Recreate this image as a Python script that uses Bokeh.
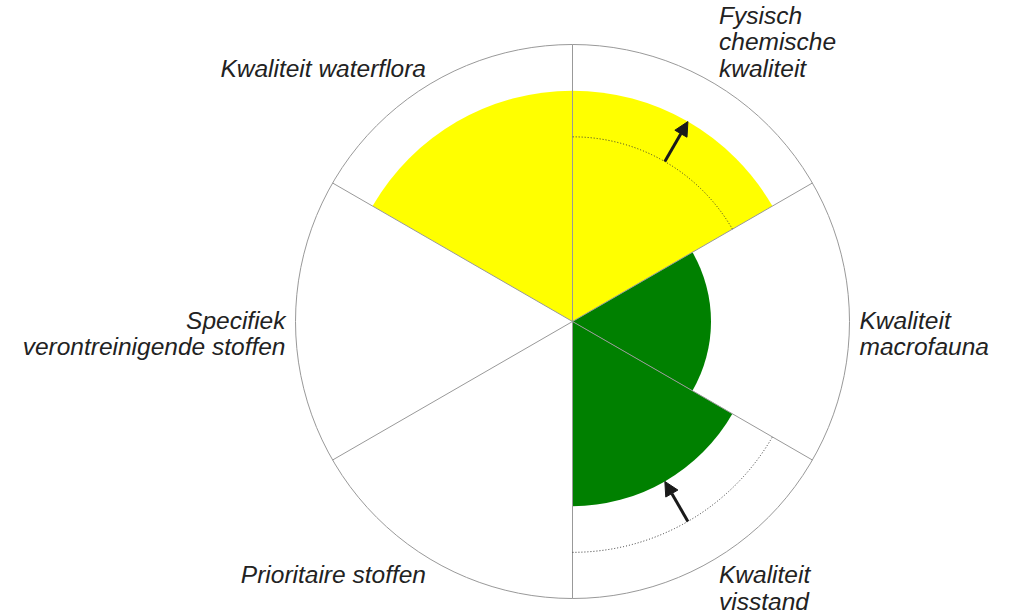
import math
from bokeh.plotting import figure
from bokeh.models import Arrow, NormalHead, ColumnDataSource
from bokeh.core.properties import value
from bokeh.embed import file_html
from bokeh.resources import INLINE

# ---- data ----
categories = [
    "Fysisch\nchemische\nkwaliteit",
    "Kwaliteit\nmacrofauna",
    "Kwaliteit\nvisstand",
    "Prioritaire stoffen",
    "Specifiek\nverontreinigende stoffen",
    "Kwaliteit waterflora",
]
current_score = [5 / 6, 3 / 6, 4 / 6, 0.0, 0.0, 5 / 6]
previous_score = [4 / 6, None, 5 / 6, None, None, None]
colors = ["#ffff00", "#008000", "#008000", None, None, "#ffff00"]

# ---- layout ----
W, H = 1010, 614
CX, CY = 572, 321          # centre in canvas pixels (from top-left)
R = 277                    # outer radius in pixels = score 1.0
TEXT_COLOR = "#222222"

p = figure(width=W, height=H, output_backend="svg", toolbar_location=None,
           x_range=(-CX, W - CX), y_range=(-(H - CY), CY),
           x_axis_type=None, y_axis_type=None, min_border=0)
p.grid.visible = False
p.outline_line_color = None
p.background_fill_color = "white"
p.border_fill_color = "white"

n = len(categories)
step = 360.0 / n
starts = [90 - step * (i + 1) for i in range(n)]
ends = [90 - step * i for i in range(n)]
mids = [90 - step * (i + 0.5) for i in range(n)]

# wedges
wx = [i for i in range(n) if current_score[i] and colors[i]]
src = ColumnDataSource(dict(
    r=[current_score[i] * R for i in wx],
    s=[starts[i] for i in wx],
    e=[ends[i] for i in wx],
    c=[colors[i] for i in wx],
))
p.wedge(x=0, y=0, radius="r", start_angle="s", end_angle="e",
        start_angle_units="deg", end_angle_units="deg",
        fill_color="c", line_color=None, source=src)

# radial lines and outer circle
angs = [math.radians(a) for a in ends]
p.segment(x0=[0] * n, y0=[0] * n,
          x1=[R * math.cos(a) for a in angs], y1=[R * math.sin(a) for a in angs],
          line_color="#999999", line_width=1)
p.circle(x=[0], y=[0], radius=R, fill_color=None, line_color="#999999", line_width=1)

# previous scores (dotted) and arrows
for i in range(n):
    if previous_score[i] is None:
        continue
    p.arc(x=0, y=0, radius=previous_score[i] * R,
          start_angle=starts[i], end_angle=ends[i],
          start_angle_units="deg", end_angle_units="deg",
          line_color="#333333", line_width=1, line_dash="1 2")
    a = math.radians(mids[i])
    r0, r1 = previous_score[i] * R, current_score[i] * R
    p.add_layout(Arrow(
        x_start=r0 * math.cos(a), y_start=r0 * math.sin(a),
        x_end=r1 * math.cos(a), y_end=r1 * math.sin(a),
        line_color="#1a1a1a", line_width=3,
        end=NormalHead(size=14, fill_color="#1a1a1a", line_color="#1a1a1a", line_width=1)))

# labels
for i in range(n):
    a = math.radians(mids[i])
    c, s = math.cos(a), math.sin(a)
    x, y = R * c, R * s
    align = "left" if c > 0.1 else ("right" if c < -0.1 else "center")
    if s > 0.1:
        base, yoff = "bottom", 0
    elif s < -0.1:
        base, yoff = "top", 0
    else:
        base = "middle"
        yoff = 12 * (categories[i].count("\n"))
    xoff = 8 if abs(s) > 0.1 else 10
    xoff = xoff if c > 0 else -xoff
    p.text(x=[x], y=[y], text=[categories[i]], text_align=align,
           text_baseline=base, x_offset=xoff, y_offset=yoff,
           text_font=value("Liberation Sans"), text_font_style="italic",
           text_font_size="24.5px", text_line_height=0.98, text_color=TEXT_COLOR)

open("out.html", "w").write(file_html(p, INLINE))
